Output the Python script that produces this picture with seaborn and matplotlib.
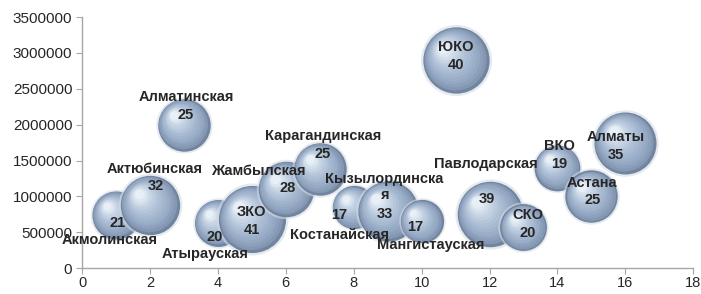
import numpy as np
import pandas as pd
import seaborn as sns
import matplotlib.pyplot as plt
from matplotlib.colors import LinearSegmentedColormap
from matplotlib.ticker import StrMethodFormatter
from matplotlib.transforms import offset_copy

# данные по регионам
regions = ['Акмолинская', 'Актюбинская', 'Алматинская', 'Атырауская', 'ЗКО',
           'Жамбылская', 'Карагандинская', 'Костанайская', 'Кызылординска\nя',
           'Мангистауская', 'ЮКО', 'Павлодарская', 'СКО', 'ВКО', 'Астана', 'Алматы']
x_vals = [1, 2, 3, 4, 5, 6, 7, 8, 9, 10, 11, 12, 13, 14, 15, 16]
y_vals = [740000, 880000, 2000000, 630000, 680000, 1100000, 1380000, 850000,
          800000, 650000, 2900000, 750000, 570000, 1400000, 1000000, 1750000]
bubble = [21, 32, 25, 20, 41, 28, 25, 17, 33, 17, 40, 39, 20, 19, 25, 35]

df = pd.DataFrame({'region': regions, 'x': x_vals, 'y': y_vals, 'size': bubble})

# смещения подписей (в пикселях, dx, dy вверх)
name_off = [(-6, -25), (5, 36), (2, 28), (-13, -31), (0, 7), (-27, 18), (3, 33),
            (-14, -28), (-3, 24), (9, -24), (0, 13), (-4, 50), (4, 12), (2, 22),
            (1, 13), (-10, 6)]
val_off = [(2, -8), (6, 19), (2, 10), (-3, -14), (0, -11), (2, 1), (3, 15),
           (-15, -8), (-3, -3), (-6, -6), (0, -5), (-3, 15), (4, -6), (2, 4),
           (1, -4), (-10, -12)]

sns.set_style('white')
plt.rcParams['font.family'] = ['Liberation Sans', 'DejaVu Sans']

fig = plt.figure(figsize=(7.01, 2.94), dpi=100)
ax = fig.add_axes([0.117, 0.088, 0.872, 0.854])

k = 57.0  # площадь (pt^2) на единицу

sphere = LinearSegmentedColormap.from_list(
    'sphere', ['#7d90ad', '#96aac5', '#abbdd3', '#c5d3e4', '#e8eff7'])

for i, row in df.iterrows():
    one = df.iloc[[i]]
    s = row['size'] * k
    r = np.sqrt(s) / 2
    # мягкая тень
    sns.scatterplot(data=one, x='x', y='y', s=s * 1.15, color='#d5dce6', alpha=0.6,
                    linewidth=0, legend=False, ax=ax)
    sns.scatterplot(data=one, x='x', y='y', s=s, color='#72859f',
                    linewidth=0, legend=False, ax=ax)
    n = 14
    for j in range(1, n):
        f = 1 - j / n * 0.9
        sh = offset_copy(ax.transData, fig=fig, x=-(1 - f) * r * 0.45,
                         y=(1 - f) * r * 0.45, units='points')
        ax.scatter(row['x'], row['y'], s=s * f * f, color=sphere(j / (n - 1)),
                   linewidth=0, transform=sh)

for i, row in df.iterrows():
    nd = name_off[i]
    vd = val_off[i]
    ax.annotate(row['region'], (row['x'], row['y']),
                xytext=(nd[0] * 0.72, nd[1] * 0.72), textcoords='offset points',
                ha='center', va='center', fontsize=10.5, fontweight='bold',
                linespacing=1.2)
    ax.annotate(str(row['size']), (row['x'], row['y']),
                xytext=(vd[0] * 0.72, vd[1] * 0.72), textcoords='offset points',
                ha='center', va='center', fontsize=10.5, fontweight='bold')

ax.set_xlim(0, 18)
ax.set_ylim(0, 3500000)
ax.set_xticks(range(0, 19, 2))
ax.set_yticks(range(0, 3500001, 500000))
ax.yaxis.set_major_formatter(StrMethodFormatter('{x:.0f}'))
ax.set_xlabel('')
ax.set_ylabel('')
ax.grid(False)
sns.despine(ax=ax)
for sp in ['left', 'bottom']:
    ax.spines[sp].set_color('#a6a6a6')
    ax.spines[sp].set_linewidth(1)
ax.tick_params(axis='both', direction='out', length=4, color='#a6a6a6',
               pad=3, left=True, bottom=True)
ax.tick_params(axis='y', labelsize=11)
ax.tick_params(axis='x', labelsize=10.5, pad=2)

fig.savefig('out.png', dpi=100)
